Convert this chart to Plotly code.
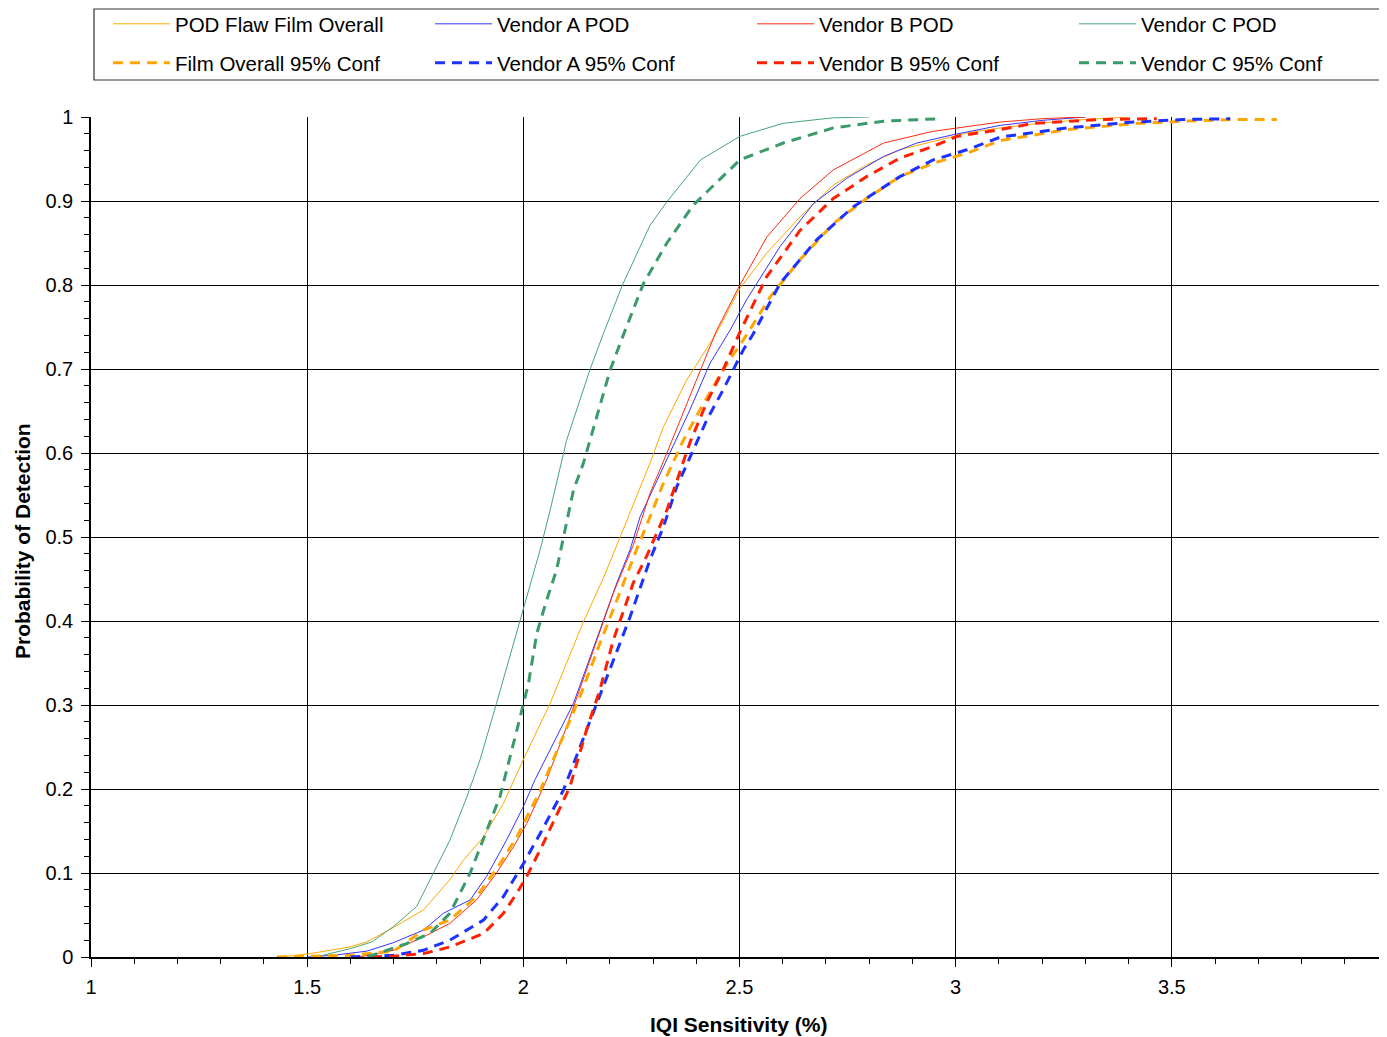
import plotly.graph_objects as go

# ---- data ----
film_x = [1.44, 1.507, 1.599, 1.638, 1.699, 1.769, 1.830, 1.861, 1.908, 1.954, 2.000, 2.062, 2.139, 2.185, 2.224, 2.293, 2.324, 2.378, 2.447, 2.501, 2.563, 2.640, 2.717, 2.794, 2.871, 2.948, 3.026, 3.103, 3.2, 3.3, 3.4]
film_y = [0, 0.004, 0.012, 0.018, 0.035, 0.056, 0.092, 0.115, 0.143, 0.183, 0.235, 0.302, 0.399, 0.451, 0.50, 0.588, 0.631, 0.687, 0.743, 0.796, 0.838, 0.881, 0.919, 0.943, 0.961, 0.971, 0.981, 0.987, 0.993, 0.997, 1.0]

a_x = [1.50, 1.56, 1.638, 1.699, 1.769, 1.815, 1.877, 1.915, 1.961, 2.000, 2.027, 2.077, 2.116, 2.177, 2.216, 2.247, 2.270, 2.339, 2.385, 2.432, 2.478, 2.517, 2.594, 2.671, 2.748, 2.833, 2.910, 2.995, 3.103, 3.2, 3.3]
a_y = [0, 0.002, 0.007, 0.017, 0.032, 0.052, 0.068, 0.096, 0.139, 0.179, 0.211, 0.262, 0.302, 0.389, 0.445, 0.485, 0.524, 0.600, 0.651, 0.707, 0.746, 0.783, 0.846, 0.897, 0.927, 0.953, 0.969, 0.979, 0.990, 0.996, 1.0]

b_x = [1.62, 1.70, 1.769, 1.830, 1.892, 1.938, 1.977, 2.008, 2.054, 2.100, 2.162, 2.208, 2.254, 2.293, 2.332, 2.385, 2.447, 2.501, 2.563, 2.640, 2.717, 2.833, 2.948, 3.103, 3.2, 3.3]
b_y = [0, 0.008, 0.024, 0.040, 0.068, 0.100, 0.131, 0.159, 0.211, 0.274, 0.365, 0.433, 0.490, 0.552, 0.600, 0.667, 0.746, 0.800, 0.857, 0.903, 0.937, 0.969, 0.983, 0.994, 0.998, 1.0]

c_x = [1.52, 1.60, 1.65, 1.699, 1.753, 1.792, 1.830, 1.869, 1.900, 1.938, 1.970, 2.002, 2.039, 2.062, 2.100, 2.154, 2.185, 2.231, 2.293, 2.332, 2.410, 2.501, 2.601, 2.716, 2.80]
c_y = [0, 0.010, 0.018, 0.036, 0.060, 0.0996, 0.139, 0.190, 0.235, 0.302, 0.36, 0.421, 0.485, 0.532, 0.615, 0.699, 0.742, 0.802, 0.871, 0.899, 0.949, 0.977, 0.9925, 0.999, 1.0]

film95_x = [1.43, 1.60, 1.70, 1.769, 1.830, 1.892, 1.946, 1.985, 2.039, 2.085, 2.131, 2.177, 2.216, 2.262, 2.293, 2.324, 2.370, 2.408, 2.462, 2.517, 2.571, 2.640, 2.717, 2.794, 2.871, 2.948, 3.026, 3.103, 3.257, 3.411, 3.526, 3.642, 3.743]
film95_y = [0, 0.002, 0.007, 0.032, 0.044, 0.072, 0.111, 0.143, 0.198, 0.254, 0.310, 0.373, 0.425, 0.485, 0.524, 0.564, 0.615, 0.651, 0.699, 0.741, 0.786, 0.830, 0.873, 0.903, 0.929, 0.945, 0.957, 0.972, 0.985, 0.992, 0.995, 0.997, 0.997]

a95_x = [1.60, 1.699, 1.769, 1.830, 1.908, 1.954, 2.000, 2.039, 2.093, 2.131, 2.177, 2.200, 2.247, 2.293, 2.324, 2.355, 2.393, 2.424, 2.462, 2.509, 2.532, 2.594, 2.679, 2.763, 2.871, 2.948, 3.026, 3.103, 3.257, 3.411, 3.526, 3.635]
a95_y = [0, 0.002, 0.008, 0.020, 0.044, 0.072, 0.111, 0.147, 0.199, 0.250, 0.310, 0.342, 0.405, 0.473, 0.512, 0.560, 0.604, 0.639, 0.675, 0.723, 0.742, 0.802, 0.854, 0.893, 0.929, 0.949, 0.961, 0.976, 0.987, 0.994, 0.997, 0.998]

b95_x = [1.65, 1.699, 1.769, 1.830, 1.908, 1.954, 1.985, 2.008, 2.046, 2.085, 2.108, 2.146, 2.177, 2.208, 2.254, 2.285, 2.332, 2.385, 2.424, 2.462, 2.501, 2.563, 2.640, 2.717, 2.794, 2.871, 2.948, 3.003, 3.103, 3.18, 3.334, 3.465]
b95_y = [0, 0.001, 0.004, 0.012, 0.028, 0.052, 0.076, 0.096, 0.135, 0.179, 0.203, 0.270, 0.318, 0.377, 0.445, 0.477, 0.532, 0.612, 0.660, 0.699, 0.744, 0.810, 0.865, 0.903, 0.929, 0.951, 0.965, 0.977, 0.985, 0.9925, 0.997, 0.998]

c95_x = [1.64, 1.730, 1.784, 1.830, 1.877, 1.915, 1.946, 1.985, 2.012, 2.031, 2.054, 2.077, 2.116, 2.139, 2.170, 2.201, 2.231, 2.278, 2.332, 2.393, 2.501, 2.601, 2.717, 2.833, 2.964]
c95_y = [0, 0.016, 0.028, 0.052, 0.100, 0.151, 0.191, 0.270, 0.326, 0.385, 0.425, 0.461, 0.556, 0.588, 0.643, 0.699, 0.740, 0.802, 0.850, 0.895, 0.949, 0.969, 0.987, 0.995, 0.998]

FONT = "Liberation Sans, Arial, sans-serif"

# page body margin (8px) shifts the figure; work in figure pixels
OFF = 8
W, H = 1387, 1037
PL, PR, PT, PB = 91 - OFF, 1388 - OFF, 117 - OFF, 957 - OFF
PW, PH = PR - PL, PB - PT


def px(xr):  # reference screen x -> paper x
    return (xr - OFF - PL) / PW


def py(yr):  # reference screen y -> paper y
    return 1 - (yr - OFF - PT) / PH


fig = go.Figure()
solid = [
    ("POD Flaw Film Overall", film_x, film_y, "#FFA800"),
    ("Vendor A POD", a_x, a_y, "#3535FF"),
    ("Vendor B POD", b_x, b_y, "#FF2A10"),
    ("Vendor C POD", c_x, c_y, "#45A577"),
]
dashed = [
    ("Film Overall 95% Conf", film95_x, film95_y, "#FFA500"),
    ("Vendor A 95% Conf", a95_x, a95_y, "#1E32FF"),
    ("Vendor B 95% Conf", b95_x, b95_y, "#FF2000"),
    ("Vendor C 95% Conf", c95_x, c95_y, "#3A9A6A"),
]
for name, xs, ys, col in solid:
    fig.add_trace(go.Scatter(x=xs, y=ys, name=name, mode="lines",
                             line=dict(color=col, width=1), legend="legend"))
for name, xs, ys, col in dashed:
    fig.add_trace(go.Scatter(x=xs, y=ys, name=name, mode="lines",
                             line=dict(color=col, width=3, dash="10px,7px"), legend="legend2"))

leg_common = dict(orientation="h", xanchor="left", yanchor="middle",
                  font=dict(family=FONT, size=20.5, color="black"),
                  bgcolor="rgba(0,0,0,0)", borderwidth=0,
                  entrywidth=250, entrywidthmode="pixels", itemwidth=57,
                  traceorder="normal")

fig.update_layout(
    width=W, height=H,
    margin=dict(l=PL, r=W - PR, t=PT, b=H - PB, autoexpand=False),
    paper_bgcolor="white", plot_bgcolor="white",
    font=dict(family=FONT, size=20, color="black"),
    showlegend=True,
    legend=dict(x=px(108), y=py(24), **leg_common),
    legend2=dict(x=px(108), y=py(63), **leg_common),
    xaxis=dict(range=[1, 4], dtick=0.5, tick0=1, showgrid=True, gridcolor="black", gridwidth=1,
               showline=True, linecolor="black", linewidth=1.5, ticks="outside", ticklen=8,
               tickcolor="black", tickfont=dict(family=FONT, size=20), ticklabelstandoff=3,
               minor=dict(dtick=0.1, ticks="outside", ticklen=5, tickcolor="black", showgrid=False),
               zeroline=False),
    yaxis=dict(range=[0, 1], dtick=0.1, tick0=0, showgrid=True, gridcolor="black", gridwidth=1,
               showline=True, linecolor="black", linewidth=1.5, ticks="outside", ticklen=8,
               tickcolor="black", tickfont=dict(family=FONT, size=20), ticklabelstandoff=4,
               minor=dict(dtick=0.02, ticks="outside", ticklen=5, tickcolor="black", showgrid=False),
               zeroline=False),
    shapes=[dict(type="rect", xref="paper", yref="paper",
                 x0=px(94), x1=px(1380), y0=py(80), y1=py(9),
                 line=dict(color="#333333", width=1.2), fillcolor="rgba(0,0,0,0)", layer="below")],
    annotations=[
        dict(text="<b>IQI Sensitivity (%)</b>", xref="paper", yref="paper",
             x=px(738), y=py(1024), showarrow=False,
             font=dict(family=FONT, size=21), xanchor="center", yanchor="middle"),
        dict(text="<b>Probability of Detection</b>", xref="paper", yref="paper",
             x=px(22), y=py(541), showarrow=False, textangle=-90,
             font=dict(family=FONT, size=21), xanchor="center", yanchor="middle"),
    ],
)

fig.write_html("out.html")
